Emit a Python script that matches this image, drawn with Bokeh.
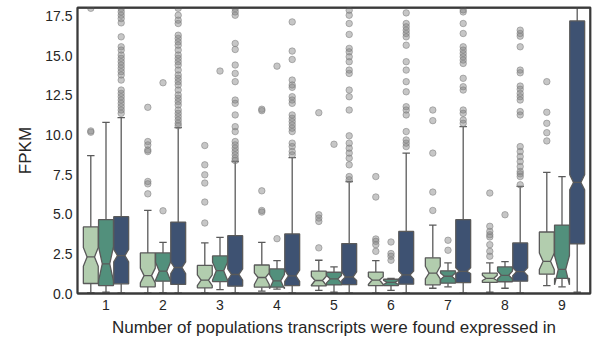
import numpy as np
from bokeh.plotting import figure
from bokeh.models import Range1d, FixedTicker, NumeralTickFormatter, Span
from bokeh.embed import file_html
from bokeh.resources import INLINE

groups = [1, 2, 3, 4, 5, 6, 7, 8, 9]
hue_colors = ["#b2cdae", "#52907c", "#3e5272"]
edge_color = "#5a5a5a"

# hue 1 (light green)
light_q1 = [0.63, 0.42, 0.36, 0.40, 0.48, 0.50, 0.55, 0.70, 1.22]
light_med = [2.31, 1.13, 0.85, 1.01, 0.82, 0.85, 1.28, 0.95, 2.03]
light_q3 = [4.20, 2.56, 1.77, 1.80, 1.41, 1.35, 2.25, 1.28, 3.88]
light_ci_lo = [1.72, 0.67, 0.50, 0.57, 0.52, 0.57, 0.92, 0.82, 1.51]
light_ci_hi = [2.90, 1.60, 1.18, 1.30, 1.09, 1.05, 1.72, 1.15, 2.55]
light_lo = [0.05, 0.04, 0.04, 0.15, 0.20, 0.03, 0.33, 0.08, 0.50]
light_hi = [8.70, 5.24, 3.19, 3.23, 2.10, 2.08, 4.32, 1.93, 7.64]
light_out = [
    [10.26, 10.18, 18.0],
    [11.75, 9.59, 9.38, 9.06, 8.96, 7.07, 6.92, 6.29],
    [9.34, 8.12, 7.49, 6.97, 5.77, 4.45],
    [11.63, 11.54, 6.48, 5.24, 5.14],
    [11.41, 4.97, 4.76, 4.55, 2.88],
    [7.38, 6.09, 3.44, 3.29, 3.08, 2.66],
    [11.58, 10.91, 8.86, 6.40, 5.24],
    [6.34, 4.24, 3.92, 3.71, 3.57, 3.08, 2.66, 2.35],
    [13.37, 11.44, 10.74, 10.15, 9.63],
]

# hue 2 (teal)
teal_q1 = [0.50, 0.78, 0.75, 0.40, 0.54, 0.50, 0.65, 0.74, 0.95]
teal_med = [1.87, 1.41, 1.44, 0.80, 0.92, 0.70, 1.09, 1.15, 1.52]
teal_q3 = [4.66, 2.56, 2.37, 1.55, 1.34, 0.90, 1.43, 1.68, 4.32]
teal_ci_lo = [0.80, 0.85, 0.85, 0.30, 0.67, 0.57, 0.88, 0.92, 0.55]
teal_ci_hi = [2.95, 1.97, 1.97, 1.20, 1.13, 0.82, 1.30, 1.41, 2.40]
teal_lo = [0.08, 0.05, 0.25, 0.28, 0.08, 0.20, 0.42, 0.33, 0.42]
teal_hi = [10.8, 3.23, 3.54, 2.08, 1.68, 0.95, 1.93, 2.01, 7.38]
teal_out = [
    [],
    [13.3, 5.22],
    [14.04],
    [14.35, 3.46],
    [9.42],
    [3.25, 2.52, 2.35, 2.10],
    [3.36, 2.73],
    [4.97],
    [],
]

# hue 3 (dark blue)
dark_q1 = [0.61, 0.57, 0.46, 0.50, 0.56, 0.59, 0.69, 0.78, 3.13]
dark_med = [2.39, 1.64, 1.20, 1.11, 1.04, 1.17, 1.40, 1.38, 7.01]
dark_q3 = [4.85, 4.51, 3.65, 3.76, 3.15, 3.92, 4.66, 3.19, 17.2]
dark_ci_lo = [2.00, 1.25, 0.85, 0.77, 0.82, 0.92, 1.26, 1.13, 6.55]
dark_ci_hi = [2.78, 1.99, 1.55, 1.47, 1.37, 1.41, 1.62, 1.62, 7.49]
dark_lo = [0.03, 0.03, 0.03, 0.03, 0.03, 0.03, 0.03, 0.03, 0.08]
dark_hi = [11.1, 10.47, 8.33, 8.58, 7.07, 8.86, 10.53, 6.76, 30.0]
dark_out = [
    [17.98, 17.77, 17.56, 17.35, 17.08, 16.2, 15.57, 15.36, 15.05, 14.84, 14.63, 14.42,
     14.21, 14.0, 13.79, 13.47, 12.84, 12.63, 12.42, 12.21, 12.0, 11.79, 11.58, 11.37],
    [18.0, 17.56, 17.25, 17.04, 16.3, 16.1, 15.88, 15.67, 15.36, 15.05, 14.84, 14.63, 14.42,
     14.1, 13.79, 13.58, 13.37, 13.16, 12.84, 12.53, 12.32, 12.11, 11.9, 11.58, 11.37, 11.16,
     10.95, 10.74, 10.58],
    [17.98, 17.77, 17.56, 15.78, 15.4, 14.42, 13.89, 13.37, 12.21, 12.0, 11.27, 10.53, 10.22,
     9.59, 9.38, 9.17, 8.96, 8.75, 8.54, 8.39],
    [17.14, 15.3, 14.77, 13.47, 13.16, 13.01, 12.42, 12.21, 12.0, 11.27, 11.06, 10.85, 10.64,
     10.43, 10.22, 9.49, 9.27, 8.96, 8.75],
    [17.88, 17.56, 17.04, 16.35, 15.47, 15.25, 14.94, 14.63, 14.1, 13.89, 12.84, 12.42, 11.58,
     9.95, 9.49, 9.17, 8.86, 8.54, 8.12, 7.38, 7.18],
    [17.71, 17.04, 16.83, 16.62, 16.41, 16.2, 15.67, 14.63, 14.1, 13.37, 12.73, 11.79, 11.58,
     11.27, 10.22, 9.69, 9.49, 9.27],
    [17.9, 17.77, 17.04, 16.41, 15.57, 15.36, 15.15, 14.94, 14.73, 14.52, 13.58, 13.05, 12.84,
     11.58, 11.37, 10.95, 10.74],
    [16.62, 16.41, 16.24, 15.57, 14.1, 13.93, 13.09, 12.89, 12.63, 12.42, 12.21, 11.48, 11.27,
     9.27, 8.96, 8.64, 8.33, 8.01, 7.7, 7.55, 7.38, 6.86],
    [],
]

y_ticks = [0.0, 2.5, 5.0, 7.5, 10.0, 12.5, 15.0, 17.5]
x_label = "Number of populations transcripts were found expressed in"
y_label = "FPKM"
x_start, x_end = 0.5, 9.5
y_start, y_end = 0.0, 18.05

hues = [
    (light_q1, light_med, light_q3, light_ci_lo, light_ci_hi, light_lo, light_hi, light_out),
    (teal_q1, teal_med, teal_q3, teal_ci_lo, teal_ci_hi, teal_lo, teal_hi, teal_out),
    (dark_q1, dark_med, dark_q3, dark_ci_lo, dark_ci_hi, dark_lo, dark_hi, dark_out),
]

FONT = "Liberation Sans"
TXT = "#262626"
SPINE = "#3a3a3a"

p = figure(width=592, height=339, output_backend="svg", toolbar_location=None,
           x_range=Range1d(x_start, x_end), y_range=Range1d(y_start, y_end),
           min_border_left=77, min_border_right=2, min_border_top=7, min_border_bottom=0)
p.xgrid.visible = False
p.ygrid.visible = False
p.outline_line_color = SPINE
p.outline_line_width = 1.8
p.background_fill_color = "white"
p.border_fill_color = "white"

group_w = 0.8
n_h = len(hues)
bw = group_w / n_h * 0.98

for hi_idx, (q1, med, q3, cil, cih, lo, hi, outs) in enumerate(hues):
    off = -group_w / 2 + group_w / n_h * (hi_idx + 0.5)
    xc = np.array(groups, dtype=float) + off
    q1a, meda, q3a = np.array(q1), np.array(med), np.array(q3)
    L, R = xc - bw / 2, xc + bw / 2
    nL, nR = xc - bw / 4, xc + bw / 4
    p.segment(x0=xc, y0=q3a, x1=xc, y1=np.array(hi), line_color=edge_color, line_width=1.3)
    p.segment(x0=xc, y0=q1a, x1=xc, y1=np.array(lo), line_color=edge_color, line_width=1.3)
    p.segment(x0=nL, y0=np.array(hi), x1=nR, y1=np.array(hi), line_color=edge_color, line_width=1.3)
    p.segment(x0=nL, y0=np.array(lo), x1=nR, y1=np.array(lo), line_color=edge_color, line_width=1.3)
    xs, ys = [], []
    for i in range(len(groups)):
        xs.append([L[i], R[i], R[i], nR[i], R[i], R[i], L[i], L[i], nL[i], L[i], L[i]])
        ys.append([q1[i], q1[i], cil[i], med[i], cih[i], q3[i], q3[i], cih[i], med[i], cil[i], q1[i]])
    p.patches(xs=xs, ys=ys, fill_color=hue_colors[hi_idx], line_color=edge_color, line_width=1.3)
    p.segment(x0=nL, y0=meda, x1=nR, y1=meda, line_color=edge_color, line_width=1.3)
    ox, oy = [], []
    for i, vals in enumerate(outs):
        for v in vals:
            ox.append(xc[i])
            oy.append(v)
    p.scatter(x=ox, y=oy, size=6.5, marker="circle", fill_color="#808080", fill_alpha=0.45,
              line_color="#808080", line_alpha=0.55, line_width=1)

p.xaxis.ticker = FixedTicker(ticks=groups)
p.yaxis.ticker = FixedTicker(ticks=y_ticks)
p.yaxis.formatter = NumeralTickFormatter(format="0.0")
for ax in (p.xaxis, p.yaxis):
    ax.axis_line_color = SPINE
    ax.axis_line_width = 1.8
    ax.major_tick_line_color = None
    ax.minor_tick_line_color = None
    ax.major_tick_out = 0
    ax.minor_tick_out = 0
    ax.major_label_text_font = FONT
    ax.major_label_text_font_size = "14px"
    ax.major_label_text_color = TXT
    ax.axis_label_text_font = FONT
    ax.axis_label_text_font_size = "17px"
    ax.axis_label_text_font_style = "normal"
    ax.axis_label_text_color = TXT
p.xaxis.axis_label = x_label
p.yaxis.axis_label = y_label
p.xaxis.major_label_standoff = 6
p.xaxis.axis_label_standoff = 5
p.yaxis.major_label_standoff = 5
p.yaxis.axis_label_standoff = 7

# top and right spines
p.add_layout(Span(location=y_end, dimension="width", line_color=SPINE, line_width=2.5))
p.add_layout(Span(location=x_end, dimension="height", line_color=SPINE, line_width=2.5))

open("out.html", "w").write(file_html(p, INLINE))
